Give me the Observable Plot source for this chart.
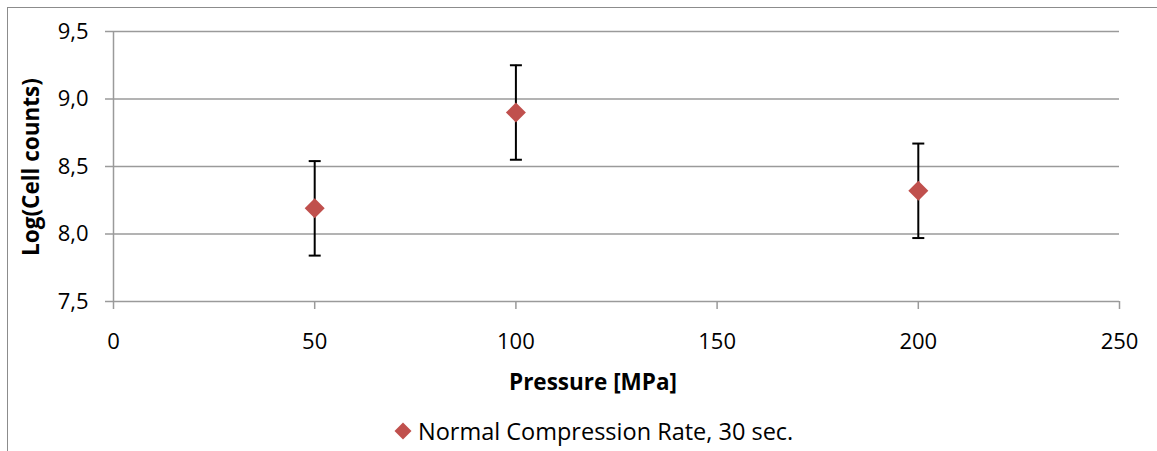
<!DOCTYPE html>
<html><head><meta charset="utf-8">
<script src="https://cdn.jsdelivr.net/npm/d3@7"></script>
<script src="https://cdn.jsdelivr.net/npm/@observablehq/plot@0.6"></script>
<style>
html,body{margin:0;padding:0;background:#fff;overflow:hidden;width:1157px;height:451px;}
#wrap{position:relative;width:1157px;height:451px;font-family:"Open Sans",sans-serif;}
#frame{position:absolute;left:7px;top:7px;width:1200px;height:500px;border:1.5px solid #8c8c8c;box-sizing:border-box;}
#chart{position:absolute;left:0;top:0;}
.lbl{position:absolute;font-weight:bold;font-size:22.5px;line-height:22px;color:#000;white-space:nowrap;}
#ytitle{left:31px;top:167px;transform:translate(-50%,-50%) rotate(-90deg);}
#xtitle{left:593px;top:382px;transform:translate(-50%,-50%);}
#legend{position:absolute;left:394px;top:418px;font-size:23.5px;line-height:26px;display:flex;align-items:center;white-space:nowrap;}
#legend svg{margin-right:6px;}
</style></head>
<body><div id="wrap"><div id="frame"></div><div id="chart"></div>
<div id="ytitle" class="lbl">Log(Cell counts)</div>
<div id="xtitle" class="lbl">Pressure [MPa]</div>
<div id="legend"><svg width="18" height="18"><path d="M9,0.5L17.5,9L9,17.5L0.5,9Z" fill="#C0504D"/></svg><span>Normal Compression Rate, 30 sec.</span></div>
</div>
<script>
const pressure = [50, 100, 200];
const logCounts = [8.19, 8.90, 8.32];
const errLow = [7.84, 8.55, 7.97];
const errHigh = [8.54, 9.25, 8.67];
const yTicks = [7.5, 8.0, 8.5, 9.0, 9.5];
const xTicks = [0, 50, 100, 150, 200, 250];
const seriesName = "Normal Compression Rate, 30 sec.";

const data = pressure.map((p, i) => ({x: p, y: logCounts[i], lo: errLow[i], hi: errHigh[i]}));

const capSymbol = {draw(ctx) { ctx.moveTo(-6, 0); ctx.lineTo(6, 0); }};
const diamondSymbol = {draw(ctx) { ctx.moveTo(0, -10); ctx.lineTo(10, 0); ctx.lineTo(0, 10); ctx.lineTo(-10, 0); ctx.closePath(); }};

const fmt = d => d.toFixed(1).replace(".", ",");

const chart = Plot.plot({
  width: 1157,
  height: 451,
  marginTop: 31,
  marginLeft: 113,
  marginRight: 38,
  marginBottom: 150,
  style: {fontFamily: "'Open Sans', sans-serif", fontSize: "22px", color: "#000", background: "transparent"},
  x: {domain: [0, 250], ticks: xTicks},
  y: {domain: [7.5, 9.5], ticks: yTicks},
  marks: [
    Plot.ruleY(yTicks, {stroke: "#9a9a9a", strokeWidth: 1.5}),
    Plot.ruleX([0], {stroke: "#9a9a9a", strokeWidth: 1.5}),
    Plot.axisY({ticks: yTicks, tickSize: 8, tickPadding: 17, stroke: "#9a9a9a", strokeWidth: 1.5, tickFormat: fmt, label: null, fontSize: 22}),
    Plot.axisX({ticks: xTicks, tickSize: 8, tickPadding: 24, stroke: "#9a9a9a", strokeWidth: 1.5, label: null, fontSize: 22}),
    Plot.ruleX(data, {x: "x", y1: "lo", y2: "hi", stroke: "black", strokeWidth: 2}),
    Plot.dot(data, {x: "x", y: "lo", symbol: capSymbol, stroke: "black", strokeWidth: 2, fill: "none"}),
    Plot.dot(data, {x: "x", y: "hi", symbol: capSymbol, stroke: "black", strokeWidth: 2, fill: "none"}),
    Plot.dot(data, {x: "x", y: "y", symbol: diamondSymbol, fill: "#C0504D", stroke: "none", title: () => seriesName})
  ]
});
document.getElementById("chart").appendChild(chart);
</script>
</body></html>
